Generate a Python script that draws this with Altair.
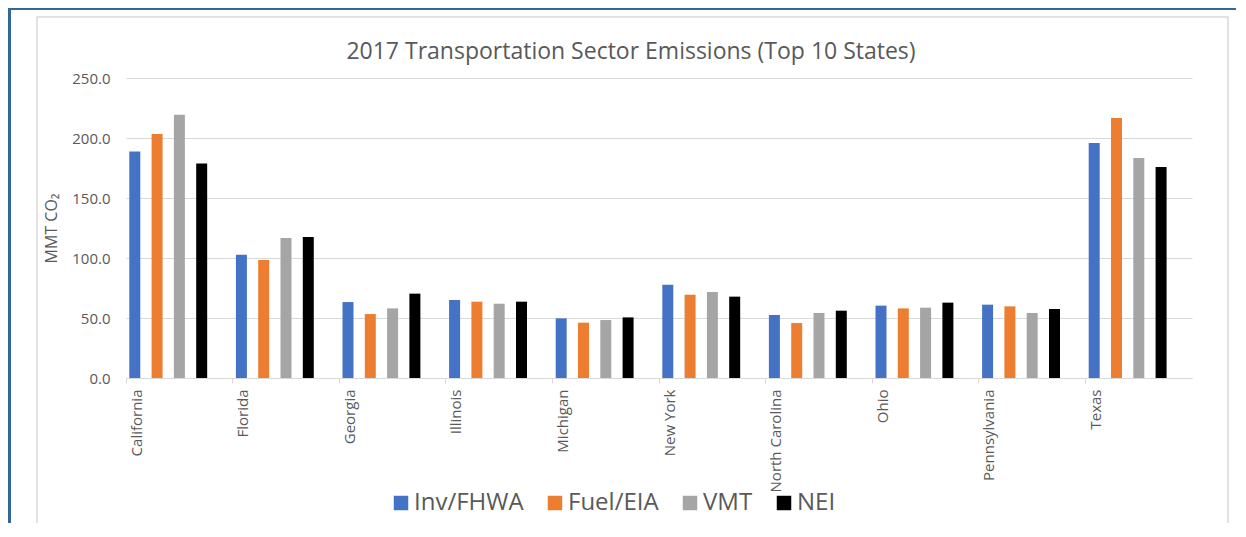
import altair as alt
import pandas as pd

title_text = "2017 Transportation Sector Emissions (Top 10 States)"
states = ["California", "Florida", "Georgia", "Illinois", "Michigan", "New York",
          "North Carolina", "Ohio", "Pennsylvania", "Texas"]
series = ["Inv/FHWA", "Fuel/EIA", "VMT", "NEI"]
inv_fhwa = [188.8, 102.8, 63.3, 65.0, 49.7, 77.8, 52.5, 60.3, 61.1, 195.8]
fuel_eia = [203.3, 98.3, 53.3, 63.6, 46.1, 69.4, 45.8, 58.0, 59.7, 216.7]
vmt = [219.4, 116.7, 58.0, 61.9, 48.3, 71.7, 54.2, 58.6, 54.2, 183.3]
nei = [178.8, 117.5, 70.3, 63.6, 50.5, 67.8, 56.1, 62.8, 57.5, 175.8]
colors = ["#4472C4", "#ED7D31", "#A5A5A5", "#000000"]
y_ticks = [0, 50, 100, 150, 200, 250]

rows = []
for name, vals in zip(series, [inv_fhwa, fuel_eia, vmt, nei]):
    for st, v in zip(states, vals):
        rows.append({"State": st, "Series": name, "Value": v})
df = pd.DataFrame(rows)

TXT = "#595959"
GRID = "#d9d9d9"

bars = alt.Chart(df).mark_bar().encode(
    x=alt.X("State:N", sort=states,
            scale=alt.Scale(paddingInner=0, paddingOuter=0),
            axis=alt.Axis(title=None, bandPosition=0, labelOffset=-42.8, labelAngle=-90,
                          labelFontSize=15, labelColor=TXT, labelPadding=6,
                          tickSize=5, tickColor=GRID, domainColor=GRID, grid=False)),
    xOffset=alt.XOffset("Series:N", sort=series,
                        scale=alt.Scale(domain=series, paddingInner=0.507,
                                        paddingOuter=0.644, align=0.115)),
    y=alt.Y("Value:Q", scale=alt.Scale(domain=[0, 250], nice=False),
            axis=alt.Axis(title="MMT CO\u2082", values=y_ticks, format=".1f",
                          labelFontSize=15, labelColor=TXT, labelPadding=16,
                          ticks=False, domain=False, grid=True, gridColor=GRID,
                          titleFontSize=16, titleFontWeight="normal", titleColor=TXT,
                          titlePadding=12)),
    color=alt.Color("Series:N", sort=series,
                    scale=alt.Scale(domain=series, range=colors),
                    legend=alt.Legend(title=None, orient="none", direction="horizontal",
                                      legendX=263, legendY=413,
                                      symbolType="square", symbolSize=210,
                                      symbolStrokeWidth=0, labelFontSize=24,
                                      labelColor=TXT, labelOffset=1, columnPadding=19)),
)

one = alt.Data(values=[{}])
frame = alt.Chart(one).mark_rect(fillOpacity=0, stroke=GRID, strokeWidth=1.5).encode(
    x=alt.value(-89), x2=alt.value(1102), y=alt.value(-61), y2=alt.value(470))
top_strip = alt.Chart(one).mark_rect(color="#336699").encode(
    x=alt.value(-118), x2=alt.value(1110), y=alt.value(-70), y2=alt.value(-68))
left_strip = alt.Chart(one).mark_rect(color="#336699").encode(
    x=alt.value(-118), x2=alt.value(-115), y=alt.value(-70), y2=alt.value(470))
title = alt.Chart(one).mark_text(text=title_text, fontSize=23, color=TXT,
                                 align="center", baseline="alphabetic").encode(
    x=alt.value(505), y=alt.value(-19))

chart = alt.layer(frame, top_strip, left_strip, title, bars).properties(
    width=1066, height=300,
    autosize=alt.AutoSizeParams(type="none"),
    padding={"left": 118, "top": 70, "right": 44, "bottom": 145},
).configure(font="Open Sans").configure_view(stroke=None)

chart.save("out.html", embed_options={"renderer": "svg", "actions": False})
